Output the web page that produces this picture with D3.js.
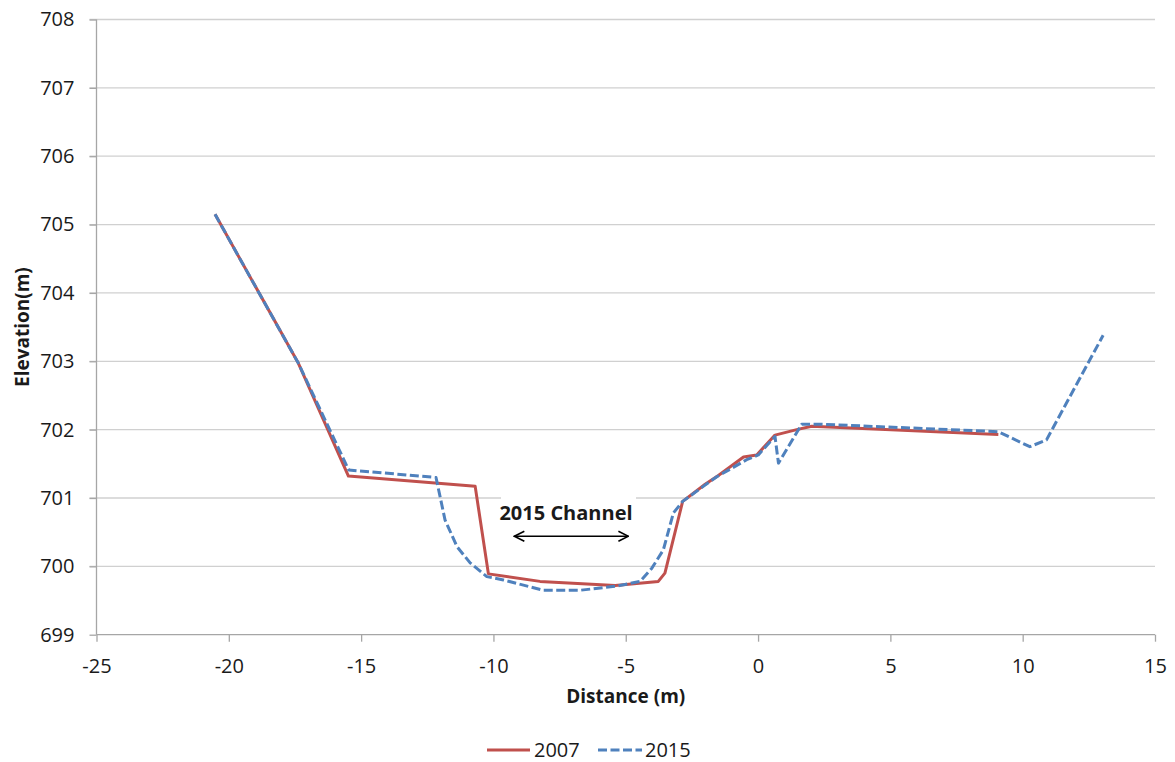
<!DOCTYPE html>
<html><head><meta charset="utf-8">
<script src="https://cdn.jsdelivr.net/npm/d3@7"></script>
<style>body{margin:0;background:#fff}svg{display:block}text{font-family:"Open Sans","Noto Sans",sans-serif;fill:#1a1a1a}</style>
</head><body><svg id="c" width="1175" height="762"></svg>
<script>
const x2007 = [-20.52, -17.37, -15.48, -10.69, -10.19, -8.24, -5.4, -3.77, -3.52, -2.85, -2.0, -1.5, -0.55, -0.05, 0.64, 1.46, 2.03, 9.08];
const y2007 = [705.15, 702.97, 701.32, 701.17, 699.89, 699.78, 699.72, 699.78, 699.9, 700.95, 701.2, 701.33, 701.6, 701.63, 701.92, 702.0, 702.05, 701.93];
const x2015 = [-20.52, -17.37, -15.47, -12.17, -11.83, -11.38, -10.88, -10.25, -9.62, -8.11, -6.73, -5.34, -4.46, -4.02, -3.58, -3.2, -2.85, -2.07, -1.56, -0.43, 0.01, 0.64, 0.77, 1.65, 2.34, 9.08, 10.27, 10.9, 13.04];
const y2015 = [705.15, 702.97, 701.41, 701.30, 700.68, 700.29, 700.05, 699.85, 699.80, 699.65, 699.65, 699.71, 699.78, 699.97, 700.24, 700.78, 700.95, 701.17, 701.31, 701.56, 701.63, 701.90, 701.51, 702.08, 702.08, 701.97, 701.75, 701.85, 703.38];
const xTicks = [-25, -20, -15, -10, -5, 0, 5, 10, 15];
const yTicks = [699, 700, 701, 702, 703, 704, 705, 706, 707, 708];
const seriesNames = ["2007", "2015"];
const annotationText = "2015 Channel";
const arrowRange = [-9.21, -4.9];
const arrowY = 700.44;

const svg = d3.select("#c");
const L = 96.5, R = 1155, T = 19.5, B = 634.7;
const x = d3.scaleLinear().domain([-25, 15]).range([L, R]);
const y = d3.scaleLinear().domain([699, 708]).range([B, T]);
const fmt = d => String(d);

// gridlines
svg.append("g").selectAll("line").data(yTicks.filter(d => d !== 699)).join("line")
  .attr("x1", L - 7).attr("x2", R).attr("y1", d => y(d)).attr("y2", d => y(d))
  .attr("stroke", "#d0d0d0").attr("stroke-width", 1.3);

// y axis
const ya = svg.append("g").attr("transform", `translate(${L},0)`)
  .call(d3.axisLeft(y).tickValues(yTicks).tickSize(7).tickPadding(15).tickFormat(fmt));
ya.select(".domain").attr("stroke", "#a6a6a6").attr("stroke-width", 1.3).attr("d", `M0,${T}V${B}`);
ya.selectAll(".tick line").attr("stroke", "#a6a6a6").attr("stroke-width", 1.3);
ya.selectAll(".tick text").attr("font-size", 20).attr("font-family", "Open Sans").attr("fill", "#1a1a1a");

// x axis
const xa = svg.append("g").attr("transform", `translate(0,${B})`)
  .call(d3.axisBottom(x).tickValues(xTicks).tickSize(7).tickPadding(17).tickFormat(fmt));
xa.select(".domain").attr("stroke", "#a6a6a6").attr("stroke-width", 1.3).attr("d", `M${L},0H${R}`);
xa.selectAll(".tick line").attr("stroke", "#a6a6a6").attr("stroke-width", 1.3);
xa.selectAll(".tick text").attr("font-size", 20).attr("font-family", "Open Sans").attr("fill", "#1a1a1a");

// annotation background box
svg.append("rect").attr("x", 501).attr("y", y(701) - 8).attr("width", 135).attr("height", 50).attr("fill", "#fff");

const line = d3.line().x(d => x(d[0])).y(d => y(d[1]));
const d07 = x2007.map((v, i) => [v, y2007[i]]);
const d15 = x2015.map((v, i) => [v, y2015[i]]);
svg.append("path").datum(d07).attr("d", line).attr("fill", "none")
  .attr("stroke", "#c0504d").attr("stroke-width", 3).attr("stroke-linejoin", "round");
svg.append("path").datum(d15).attr("d", line).attr("fill", "none")
  .attr("stroke", "#4f81bd").attr("stroke-width", 3).attr("stroke-dasharray", "9,3.5").attr("stroke-linejoin", "round");

// annotation
svg.append("text").attr("x", 566).attr("y", 520)
  .attr("text-anchor", "middle").attr("font-size", 20).attr("font-weight", "bold").text(annotationText);
const defs = svg.append("defs");
["s", "e"].forEach(k => {
  defs.append("marker").attr("id", "m" + k).attr("viewBox", "0 0 12 12").attr("refX", 11).attr("refY", 6)
    .attr("markerWidth", 12).attr("markerHeight", 12).attr("markerUnits", "userSpaceOnUse").attr("orient", "auto-start-reverse")
    .append("path").attr("d", "M1,1 L11,6 L1,11").attr("fill", "none").attr("stroke", "#000").attr("stroke-width", 1.6);
});
svg.append("line").attr("x1", x(arrowRange[0])).attr("x2", x(arrowRange[1])).attr("y1", y(arrowY)).attr("y2", y(arrowY))
  .attr("stroke", "#000").attr("stroke-width", 1.6).attr("marker-start", "url(#ms)").attr("marker-end", "url(#me)");

// axis titles
svg.append("text").attr("x", (L + R) / 2).attr("y", 703).attr("text-anchor", "middle")
  .attr("font-size", 19).attr("font-weight", "bold").text("Distance (m)");
svg.append("text").attr("transform", `translate(29,${(T + B) / 2}) rotate(-90)`).attr("text-anchor", "middle")
  .attr("font-size", 19).attr("font-weight", "bold").text("Elevation(m)");

// legend
const lg = svg.append("g");
lg.append("line").attr("x1", 487).attr("x2", 530).attr("y1", 750).attr("y2", 750).attr("stroke", "#c0504d").attr("stroke-width", 3);
lg.append("text").attr("x", 534).attr("y", 757).attr("font-size", 20).text(seriesNames[0]);
lg.append("line").attr("x1", 598).attr("x2", 642).attr("y1", 750).attr("y2", 750).attr("stroke", "#4f81bd").attr("stroke-width", 3).attr("stroke-dasharray", "9,3.5");
lg.append("text").attr("x", 645).attr("y", 757).attr("font-size", 20).text(seriesNames[1]);
</script></body></html>
